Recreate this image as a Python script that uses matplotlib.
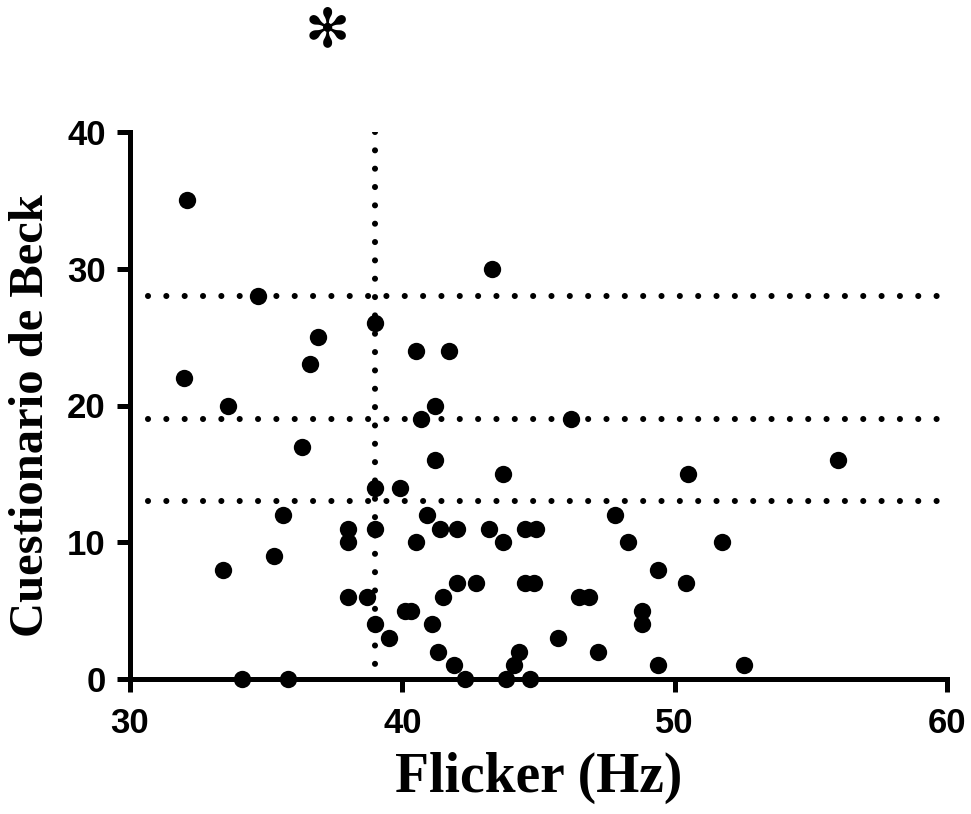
import matplotlib
matplotlib.use("Agg")
import matplotlib.pyplot as plt

# Flicker (Hz) and Beck scores
flicker = [32.1, 32.0, 33.4, 33.6, 34.1, 34.7, 35.3, 35.6, 35.8, 36.3,
           36.6, 36.9, 38.0, 38.0, 38.0, 38.7, 39.0, 39.0, 39.0, 39.0,
           39.5, 39.9, 40.5, 41.7, 41.2, 40.7, 41.2, 43.7, 46.2, 43.3,
           40.9, 41.4, 42.0, 43.2, 44.5, 44.9, 40.5, 43.7, 47.8, 48.3,
           42.0, 42.7, 44.5, 44.85, 41.5, 40.1, 40.3, 41.1, 41.3, 41.9,
           42.3, 43.8, 44.1, 44.3, 44.7, 45.7, 46.5, 46.85, 47.2, 56.0,
           50.5, 51.75, 49.4, 50.4, 48.8, 48.8, 49.4, 52.55]
beck = [35, 22, 8, 20, 0, 28, 9, 12, 0, 17,
        23, 25, 11, 10, 6, 6, 26, 14, 11, 4,
        3, 14, 24, 24, 20, 19, 16, 15, 19, 30,
        12, 11, 11, 11, 11, 11, 10, 10, 12, 10,
        7, 7, 7, 7, 6, 5, 5, 4, 2, 1,
        0, 0, 1, 2, 0, 3, 6, 6, 2, 16,
        15, 10, 8, 7, 5, 4, 1, 1]

# cut-off lines
X_CUT = 39
Y_CUTS = [13, 19, 28]

x_ticks = [30, 40, 50, 60]
y_ticks = [0, 10, 20, 30, 40]

fig = plt.figure(figsize=(9.71, 8.14), dpi=100)
ax = fig.add_axes([130 / 971, 1 - 679 / 814, 817 / 971, 547 / 814])

dot_style = dict(color="black", lw=4.4, linestyle=(0, (0.001, 3.0)),
                 dash_capstyle="round", zorder=1)
# vertical cut drawn top-down so the dots start at the top of the axis
ax.plot([X_CUT, X_CUT], [40, 0.4], **dot_style)
for yc in Y_CUTS:
    ax.plot([30.65, 60], [yc, yc], **dot_style)

ax.scatter(flicker, beck, s=156, color="black", zorder=3, clip_on=False,
           linewidths=0)

ax.set_xlim(30, 60)
ax.set_ylim(0, 40)
ax.set_xticks(x_ticks)
ax.set_yticks(y_ticks)

for side in ["top", "right"]:
    ax.spines[side].set_visible(False)
for side in ["left", "bottom"]:
    ax.spines[side].set_linewidth(3.6)
ax.tick_params(direction="out", length=9.5, width=3.6)
ax.tick_params(axis="x", pad=11)
ax.tick_params(axis="y", pad=8)
for lab in ax.get_xticklabels() + ax.get_yticklabels():
    lab.set_fontfamily("Liberation Sans")
    lab.set_fontweight("bold")
    lab.set_fontsize(25)

fig.text(539 / 971, 1 - 778 / 814, "Flicker (Hz)", family="Liberation Serif",
         weight="bold", fontsize=40, ha="center", va="center")
fig.text(31 / 971, 1 - 416 / 814, "Cuestionario de Beck",
         family="Liberation Serif", weight="bold", fontsize=35,
         rotation=90, ha="center", va="center")

fig.text(327 / 971, 1 - 31 / 814, "\u273b", family="DejaVu Sans",
         fontsize=39, ha="center", va="center")

fig.savefig("out.png", dpi=100)
